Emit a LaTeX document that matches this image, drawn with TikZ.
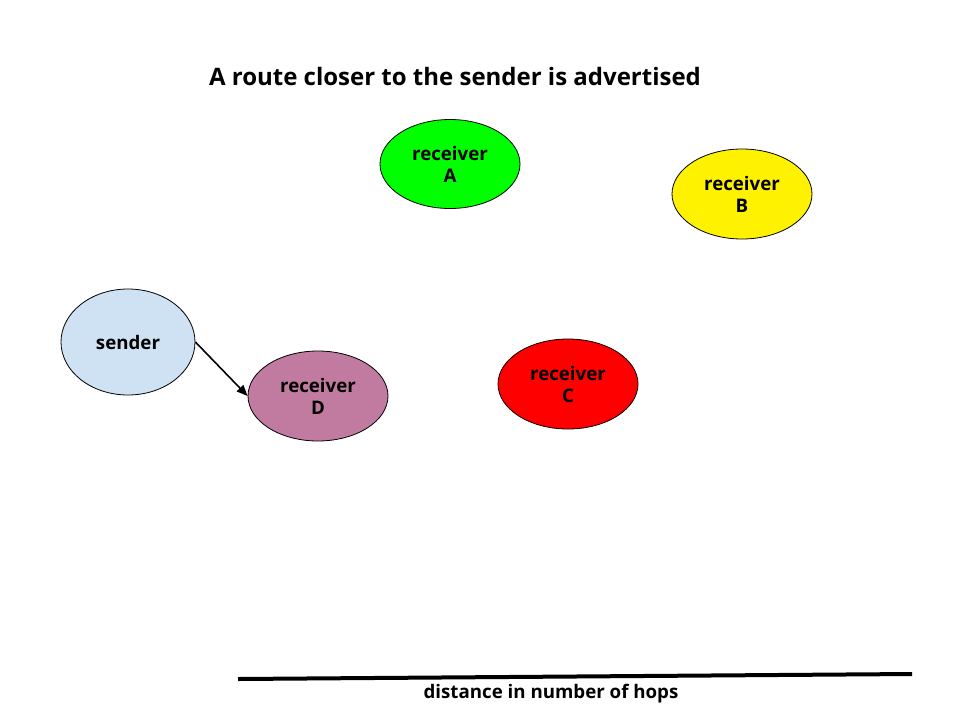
\documentclass[tikz,border=0pt]{standalone}
\usepackage{fontspec}
\setmainfont{Open Sans}
\usetikzlibrary{shapes.geometric,arrows.meta}
\definecolor{dmauve}{HTML}{C27BA0}
\definecolor{sblue}{HTML}{CFE2F3}
\begin{document}
\begin{tikzpicture}[x=1pt,y=-1pt,
  ell/.style={ellipse,draw=black,line width=0.8pt,inner sep=0pt,minimum width=140pt,minimum height=89pt,
    align=center,font=\fontsize{18.7}{22}\selectfont\bfseries},
  lbl/.style={font=\fontsize{18.7}{22}\selectfont\bfseries,inner sep=0pt}]
\useasboundingbox (0,0) rectangle (960,720);
\node[lbl,font=\fontsize{24}{28}\selectfont\bfseries] (title) at (455,76) {A route closer to the sender is advertised};
\node[ell,fill=green] (A) at (450,164) {receiver\\A};
\node[ell,fill=yellow,minimum height=90pt] (B) at (742,194) {receiver\\B};
\node[ell,fill=sblue,minimum width=134pt,minimum height=106pt] (S) at (128,342) {sender};
\node[ell,fill=dmauve,minimum height=90pt] (D) at (318,396) {receiver\\D};
\node[ell,fill=red,minimum height=90pt] (C) at (568,384) {receiver\\C};
\draw[line width=1.6pt,-{Triangle[length=11pt,width=9pt]}] (S.east) -- (D.west);
\coordinate (l1) at (238,679);
\coordinate (l2) at (912,674);
\draw[line width=4pt] (l1) -- (l2);
\node[lbl] (dist) at (551,694) {distance in number of hops};
\end{tikzpicture}
\end{document}
